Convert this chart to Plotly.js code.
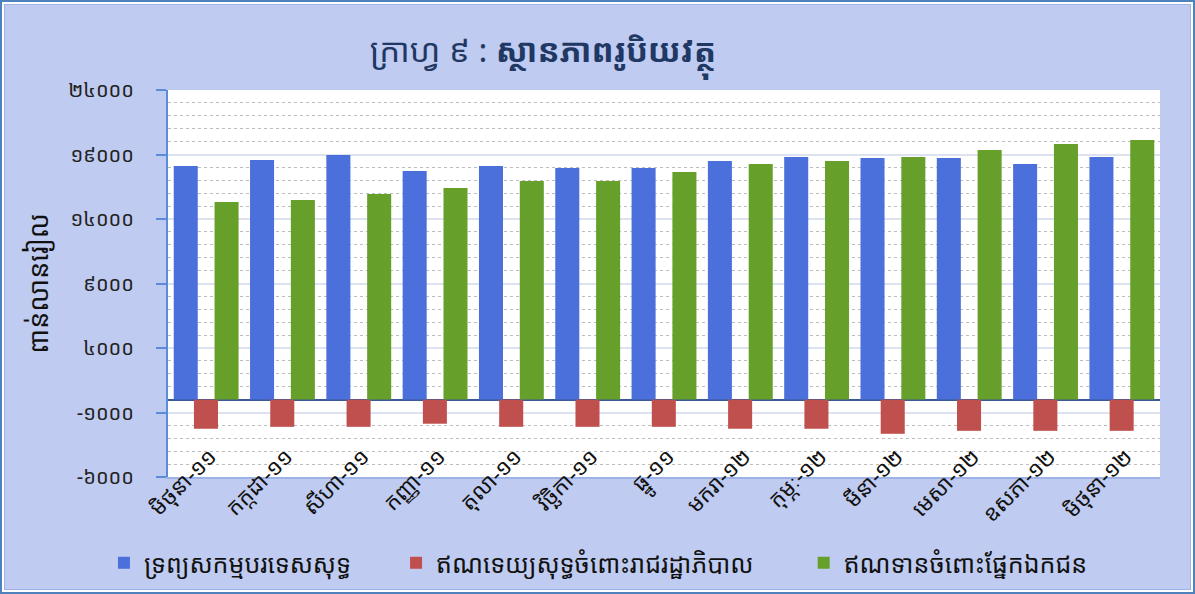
<!DOCTYPE html>
<html>
<head>
<meta charset="utf-8">
<script src="https://cdn.plot.ly/plotly-3.0.1.min.js"></script>
<style>
  html, body { margin: 0; padding: 0; background: #ffffff; }
  #outer { width: 1191px; height: 590px; border: 2px solid #4F81BD; background: #ffffff; padding: 0; }
  #inner { position: relative; left: 2px; top: 2px; width: 1185px; height: 584px; border: 1px solid #9FB2E6; background: #BFCBF0; box-sizing: content-box; }
  #chart { width: 1185px; height: 584px; }
</style>
</head>
<body>
<div id="outer"><div id="inner"><div id="chart"></div></div></div>
<script>
// Categories (months)
const categories = ["មិថុនា-១១", "កក្កដា-១១", "សីហា-១១", "កញ្ញា-១១", "តុលា-១១", "វិច្ឆិកា-១១", "ធ្នូ-១១", "មករា-១២", "កុម្ភៈ-១២", "មីនា-១២", "មេសា-១២", "ឧសភា-១២", "មិថុនា-១២"];

// Series names
const seriesNames = ["ទ្រព្យសកម្មបរទេសសុទ្ធ", "ឥណទេយ្យសុទ្ធចំពោះរាជរដ្ឋាភិបាល", "ឥណទានចំពោះផ្នែកឯកជន"];

// Values (billion riel)
const netForeignAssets = [18100, 18570, 18960, 17720, 18110, 17950, 17960, 18500, 18810, 18730, 18730, 18270, 18810];
const netClaimsGov = [-2260, -2110, -2110, -1870, -2110, -2110, -2110, -2260, -2260, -2650, -2420, -2420, -2420];
const privateCredit = [15320, 15480, 15940, 16410, 16950, 16950, 17650, 18270, 18500, 18810, 19350, 19810, 20120];

// Y-axis ticks
const yTickVals = [-6000, -1000, 4000, 9000, 14000, 19000, 24000];
const yTickText = ["-៦០០០", "-១០០០", "៤០០០", "៩០០០", "១៤០០០", "១៩០០០", "២៤០០០"];

const titleText = "ក្រាហ្វ ៩ : <b>ស្ថានភាពរូបិយវត្ថុ</b>";
const yTitle = "ពាន់លានរៀល";

const FONT = "'Noto Sans Khmer', 'Khmer OS', 'Noto Sans', 'DejaVu Sans', sans-serif";
const W = 0.315;

const traces = [
  { type: 'bar', name: seriesNames[0], x: categories, y: netForeignAssets, marker: { color: '#4B6FDB' }, width: W, offset: -0.425, legend: 'legend' },
  { type: 'bar', name: seriesNames[1], x: categories, y: netClaimsGov, marker: { color: '#C0504D' }, width: W, offset: -0.16, legend: 'legend2' },
  { type: 'bar', name: seriesNames[2], x: categories, y: privateCredit, marker: { color: '#66A02A' }, width: W, offset: 0.11, legend: 'legend3' }
];

function legendAt(xFrac) {
  return { orientation: 'h', xref: 'container', yref: 'container', x: xFrac, xanchor: 'left', y: 0.0445, yanchor: 'middle',
           font: { size: 25, color: '#111111' }, bgcolor: 'rgba(0,0,0,0)' };
}

const layout = {
  width: 1185, height: 584,
  paper_bgcolor: '#BFCBF0', plot_bgcolor: '#FFFFFF',
  font: { family: FONT, color: '#111111' },
  margin: { l: 163, r: 30, t: 85, b: 112, autoexpand: false },
  barmode: 'overlay',
  showlegend: true,
  title: { text: titleText, font: { size: 33, color: '#1F3864', family: FONT }, x: 0.454, xanchor: 'center', y: 0.922, yanchor: 'middle', yref: 'container' },
  xaxis: {
    type: 'category', tickangle: -45, tickfont: { size: 22, color: '#111111' },
    showline: true, linecolor: '#9DB3E8', linewidth: 2, ticks: '', showgrid: false,
    ticklabelstandoff: -44, ticklabelshift: 4, automargin: false, range: [-0.5, 12.5]
  },
  yaxis: {
    range: [-6000, 24000], tickmode: 'array', tickvals: yTickVals, ticktext: yTickText,
    tickfont: { size: 20, color: '#222222' },
    showline: true, linecolor: '#5B8BD9', linewidth: 2, ticks: 'outside', ticklen: 10, tickcolor: '#5B8BD9', tickwidth: 2,
    ticklabelstandoff: 18,
    showgrid: true, gridcolor: '#DCE2F0', gridwidth: 2,
    zeroline: true, zerolinecolor: '#3A5A95', zerolinewidth: 2,
    minor: { tickmode: 'linear', tick0: 0, dtick: 1000, showgrid: true, gridcolor: '#BDBDBD', griddash: 'dot', gridwidth: 1, ticks: '' },
    title: { text: yTitle, font: { size: 27, color: '#111111' }, standoff: 12 },
    automargin: false
  },
  legend: legendAt(0.0835),
  legend2: legendAt(0.33),
  legend3: legendAt(0.674)
};

Plotly.newPlot('chart', traces, layout, { displayModeBar: false, staticPlot: true });
</script>
</body>
</html>
